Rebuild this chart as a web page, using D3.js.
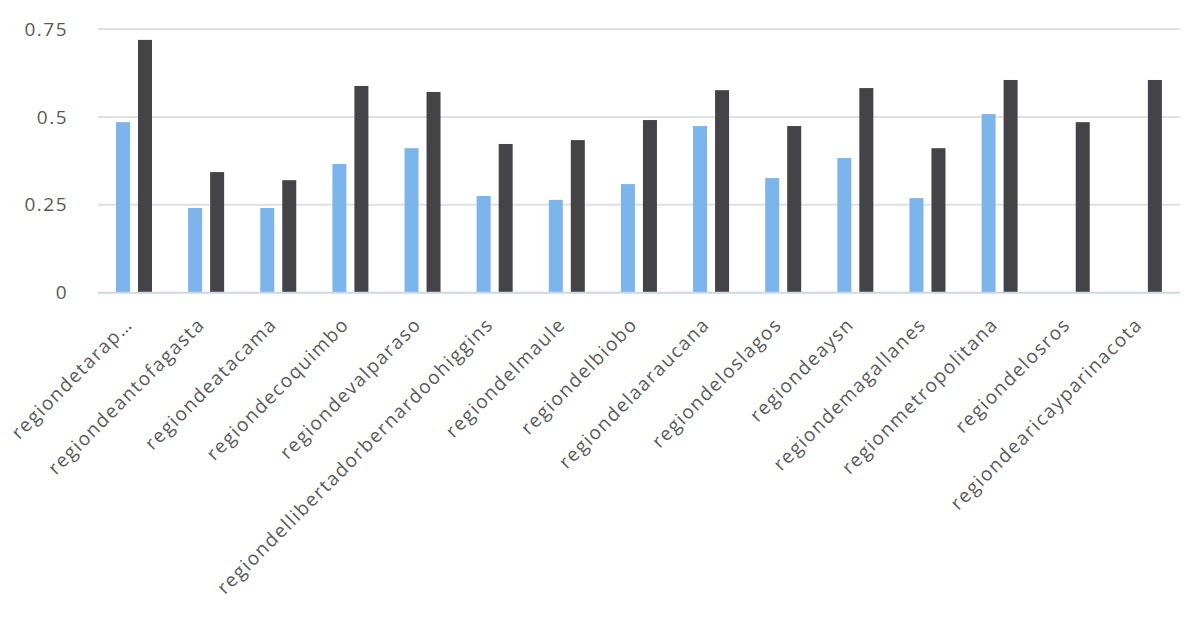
<!DOCTYPE html>
<html>
<head>
<meta charset="utf-8">
<script src="https://cdn.jsdelivr.net/npm/d3@7"></script>
<style>
  html, body { margin: 0; padding: 0; background: #fff; }
  svg { display: block; }
  text { font-family: "Open Sans", "Noto Sans", sans-serif; fill: #5a5a5a; letter-spacing: 1.5px; }
</style>
</head>
<body>
<svg id="chart" width="1200" height="640"></svg>
<script>
const categories = [
  "regiondetarap…", "regiondeantofagasta", "regiondeatacama", "regiondecoquimbo",
  "regiondevalparaso", "regiondellibertadorbernardoohiggins", "regiondelmaule",
  "regiondelbiobo", "regiondelaaraucana", "regiondeloslagos", "regiondeaysn",
  "regiondemagallanes", "regionmetropolitana", "regiondelosros", "regiondearicayparinacota"
];
const seriesNames = ["serie1", "serie2"];
const series1 = [0.485, 0.241, 0.241, 0.366, 0.411, 0.275, 0.264, 0.309, 0.474, 0.326, 0.383, 0.269, 0.508, null, null];
const series2 = [0.719, 0.343, 0.320, 0.588, 0.571, 0.423, 0.434, 0.491, 0.576, 0.474, 0.582, 0.411, 0.605, 0.485, 0.605];
const yTicks = [0, 0.25, 0.5, 0.75];
const yTickLabels = ["0", "0.25", "0.5", "0.75"];
const colors = ["#7cb5ec", "#434348"];

const svg = d3.select("#chart");
const mLeft = 98, mRight = 1180, mTop = 29, mBottom = 292.7;

const x0 = d3.scaleBand().domain(categories).range([mLeft, mRight]).padding(0);
const x1 = d3.scaleBand().domain(seriesNames).range([18, 54]).paddingInner(8 / 22).paddingOuter(0);
const y = d3.scaleLinear().domain([0, 0.75]).range([mBottom, mTop]);

// gridlines
svg.append("g").selectAll("line").data(yTicks.filter(t => t > 0)).join("line")
  .attr("x1", mLeft).attr("x2", mRight)
  .attr("y1", d => y(d)).attr("y2", d => y(d))
  .attr("stroke", "#e0e0e0").attr("stroke-width", 2);

// y labels
svg.append("g").selectAll("text").data(yTicks).join("text")
  .attr("x", 68).attr("y", d => y(d))
  .attr("dy", "0.35em")
  .attr("text-anchor", "end")
  .attr("font-size", 19)
  .text((d, i) => yTickLabels[i]);

// bars
const rows = categories.map((c, i) => ({ c, vals: [series1[i], series2[i]] }));
const g = svg.append("g").selectAll("g").data(rows).join("g")
  .attr("transform", d => `translate(${x0(d.c)},0)`);
g.selectAll("rect")
  .data(d => d.vals.map((v, j) => ({ v, s: seriesNames[j], j })).filter(e => e.v != null))
  .join("rect")
  .attr("x", d => x1(d.s))
  .attr("width", x1.bandwidth())
  .attr("y", d => y(d.v))
  .attr("height", d => y(0) - y(d.v))
  .attr("fill", d => colors[d.j]);

// x axis line
svg.append("line")
  .attr("x1", mLeft).attr("x2", mRight)
  .attr("y1", mBottom).attr("y2", mBottom)
  .attr("stroke", "#ccd6eb").attr("stroke-width", 2);

// x labels
svg.append("g").selectAll("text").data(categories).join("text")
  .attr("transform", d => `translate(${x0(d) + x0.bandwidth() / 2 - 5},321) rotate(-45)`)
  .attr("text-anchor", "end")
  .attr("dy", "0.35em")
  .attr("font-size", 19)
  .text(d => d);
</script>
</body>
</html>
